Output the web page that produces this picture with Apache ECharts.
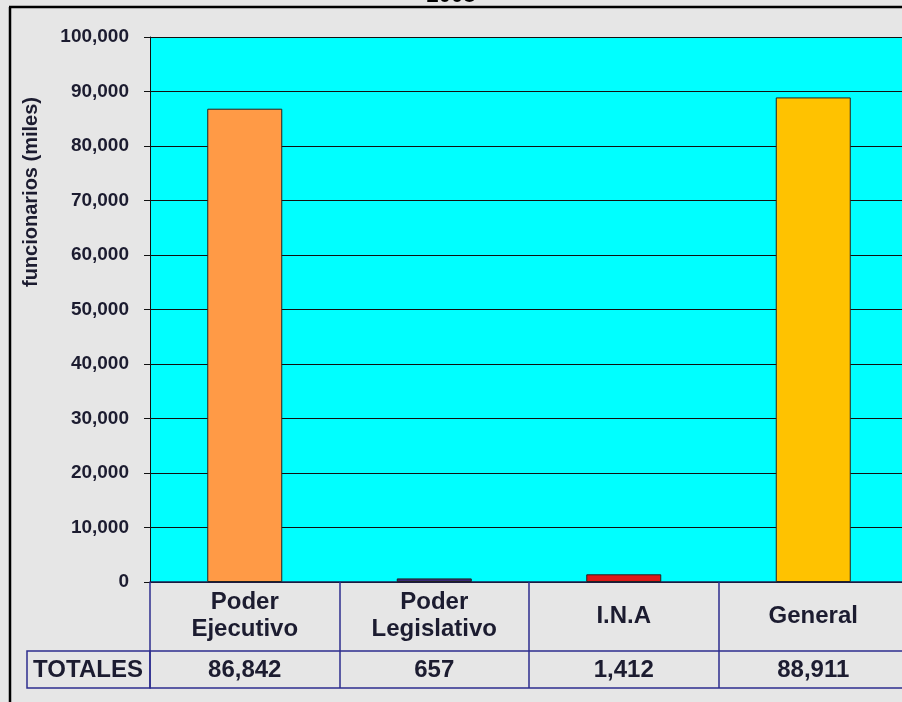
<!DOCTYPE html>
<html>
<head>
<meta charset="utf-8">
<script src="https://cdn.jsdelivr.net/npm/echarts@6/dist/echarts.min.js"></script>
<style>html,body{margin:0;padding:0;background:#e6e6e6;overflow:hidden;width:902px;height:702px;}#c{width:908px;height:702px;}</style>
</head>
<body>
<div id="c"></div>
<script>
var categories = ['Poder\nEjecutivo', 'Poder\nLegislativo', 'I.N.A', 'General'];
var totals = [86842, 657, 1412, 88911];
var barColors = ['#ff9a46', '#3a2a78', '#dd1818', '#ffc200'];
var yTicks = [0, 10000, 20000, 30000, 40000, 50000, 60000, 70000, 80000, 90000, 100000];
var titleText = '2008';
var yTitle = 'funcionarios (miles)';
var rowLabel = 'TOTALES';

function fmt(v) { return String(v).replace(/\B(?=(\d{3})+(?!\d))/g, ','); }

var FONT = '"Liberation Sans", Arial, sans-serif';
var NAVY = '#2e2e8e';
var TXT = '#1c1c30';

var chart = echarts.init(document.getElementById('c'));
chart.setOption({
  backgroundColor: '#e6e6e6',
  animation: false,
  grid: { left: 150, top: 37, right: 0, bottom: 120, show: true, backgroundColor: '#00ffff', borderWidth: 0 },
  xAxis: [
    {
      type: 'category', data: categories, position: 'bottom',
      axisLine: { show: true, lineStyle: { color: '#1e1e50', width: 1.5 } },
      axisTick: { show: true, inside: false, length: 106, lineStyle: { color: NAVY, width: 1.5 } },
      axisLabel: { margin: 34, verticalAlign: 'middle', fontFamily: FONT, fontWeight: 'bold', fontSize: 24, lineHeight: 27, color: TXT, interval: 0 }
    },
    {
      type: 'category', data: categories, position: 'bottom', offset: 69,
      axisLine: { show: true, lineStyle: { color: NAVY, width: 1.5 } },
      axisTick: { show: false },
      axisLabel: { margin: 19, verticalAlign: 'middle', fontFamily: FONT, fontWeight: 'bold', fontSize: 24, color: TXT, interval: 0,
        formatter: function (v, i) { return fmt(totals[i]); } }
    },
    {
      type: 'category', data: categories, position: 'bottom', offset: 106,
      axisLine: { show: true, lineStyle: { color: NAVY, width: 1.5 } },
      axisTick: { show: false }, axisLabel: { show: false }
    }
  ],
  yAxis: {
    type: 'value', min: yTicks[0], max: yTicks[yTicks.length - 1], interval: yTicks[1] - yTicks[0],
    axisLine: { show: true, lineStyle: { color: '#111', width: 1 } },
    axisTick: { show: true, inside: false, length: 6, lineStyle: { color: '#111' } },
    splitLine: { show: true, lineStyle: { color: '#111', width: 1 } },
    axisLabel: { margin: 21, fontFamily: FONT, fontWeight: 'bold', fontSize: 19, color: TXT, formatter: function (v) { return fmt(v); } }
  },
  series: [{
    type: 'bar', xAxisIndex: 0, barWidth: 75,
    data: totals.map(function (v, i) { return { value: v, itemStyle: { color: barColors[i] } }; }),
    itemStyle: { borderColor: '#222', borderWidth: 1 }
  }],
  graphic: [
    { type: 'line', shape: { x1: 10, y1: 7, x2: 10, y2: 702 }, style: { stroke: '#000', lineWidth: 2.5 }, z: 10 },
    { type: 'line', shape: { x1: 9, y1: 7, x2: 908, y2: 7 }, style: { stroke: '#000', lineWidth: 2.5 }, z: 10 },
    { type: 'text', x: 451, y: -15, style: { text: titleText, font: 'bold 22px ' + FONT, fill: '#000', align: 'center' } },
    { type: 'rect', shape: { x: 27, y: 651, width: 123, height: 37 }, style: { fill: 'none', stroke: NAVY, lineWidth: 1.5 }, z: 5 },
    { type: 'text', x: 88, y: 670, style: { text: rowLabel, font: 'bold 24px ' + FONT, fill: TXT, align: 'center', verticalAlign: 'middle' }, z: 5 },
    { type: 'text', x: 31, y: 192, rotation: Math.PI / 2, style: { text: yTitle, font: 'bold 20px ' + FONT, fill: TXT, align: 'center', verticalAlign: 'middle' }, z: 5 }
  ]
});
</script>
</body>
</html>
